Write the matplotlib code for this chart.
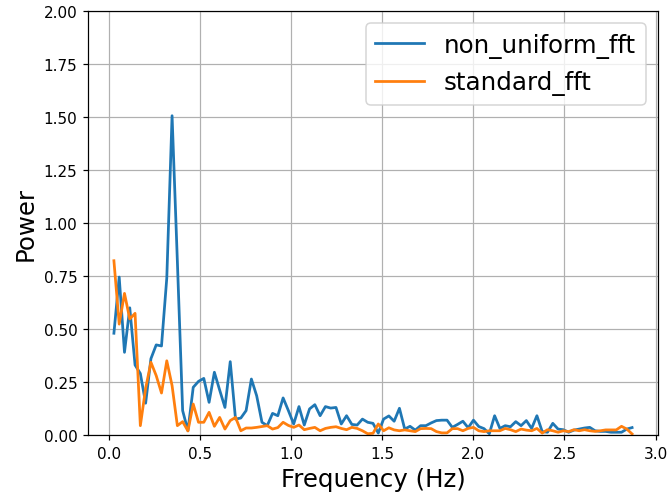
import numpy as np
import matplotlib
matplotlib.use("Agg")
import matplotlib.pyplot as plt

# Frequency bins (Hz) of the spectrum
freq_step = 0.029
frequency = np.arange(1, 100) * freq_step

non_uniform_fft = [
    0.48, 0.745, 0.39, 0.60, 0.33, 0.29, 0.15, 0.36, 0.425, 0.42,
    0.74, 1.506, 0.82, 0.115, 0.02, 0.225, 0.253, 0.267, 0.154, 0.296,
    0.212, 0.13, 0.346, 0.075, 0.08, 0.115, 0.264, 0.185, 0.06, 0.044,
    0.102, 0.091, 0.175, 0.115, 0.052, 0.134, 0.047, 0.123, 0.143, 0.091,
    0.134, 0.127, 0.13, 0.052, 0.091, 0.05, 0.047, 0.075, 0.06, 0.055,
    0.009, 0.075, 0.09, 0.065, 0.126, 0.028, 0.041, 0.023, 0.044, 0.044,
    0.057, 0.068, 0.07, 0.07, 0.036, 0.05, 0.065, 0.034, 0.07, 0.04,
    0.03, 0.006, 0.091, 0.031, 0.044, 0.039, 0.063, 0.044, 0.068, 0.031,
    0.091, 0.016, 0.013, 0.055, 0.028, 0.025, 0.013, 0.023, 0.028, 0.033,
    0.036, 0.02, 0.017, 0.017, 0.013, 0.013, 0.013, 0.028, 0.035,
]

standard_fft = [
    0.822, 0.523, 0.668, 0.547, 0.574, 0.044, 0.22, 0.343, 0.28, 0.198,
    0.35, 0.233, 0.044, 0.063, 0.019, 0.146, 0.06, 0.06, 0.107, 0.041,
    0.083, 0.028, 0.068, 0.083, 0.02, 0.033, 0.033, 0.036, 0.04, 0.044,
    0.028, 0.035, 0.06, 0.045, 0.036, 0.047, 0.025, 0.031, 0.036, 0.02,
    0.031, 0.036, 0.039, 0.031, 0.025, 0.036, 0.031, 0.02, 0.006, 0.008,
    0.052, 0.02, 0.034, 0.024, 0.02, 0.024, 0.02, 0.016, 0.03, 0.031,
    0.03, 0.016, 0.01, 0.01, 0.03, 0.03, 0.02, 0.031, 0.036, 0.02,
    0.016, 0.02, 0.02, 0.02, 0.031, 0.025, 0.016, 0.028, 0.023, 0.02,
    0.031, 0.009, 0.025, 0.02, 0.013, 0.02, 0.016, 0.025, 0.02, 0.025,
    0.02, 0.017, 0.02, 0.024, 0.024, 0.024, 0.041, 0.028, 0.005,
]

dpi = 110
fig = plt.figure(figsize=(669 / dpi, 493 / dpi), dpi=dpi)
ax = fig.add_axes([88 / 669, 1 - 436 / 493, (658 - 88) / 669, (436 - 12) / 493])

ax.plot(frequency, non_uniform_fft, color="#1f77b4", lw=1.8, label="non_uniform_fft")
ax.plot(frequency, standard_fft, color="#ff7f0e", lw=1.8, label="standard_fft")

ax.set_ylim(0, 2.0)
ax.set_xticks([0.0, 0.5, 1.0, 1.5, 2.0, 2.5, 3.0])
ax.set_yticks(np.arange(0, 2.01, 0.25))
ax.yaxis.set_major_formatter(matplotlib.ticker.FormatStrFormatter("%.2f"))
ax.tick_params(labelsize=10)
ax.grid(True)
ax.set_xlabel("Frequency (Hz)", fontsize=16)
ax.set_ylabel("Power", fontsize=16)
ax.legend(loc="upper right", fontsize=16)

fig.savefig("out.png", dpi=dpi)
